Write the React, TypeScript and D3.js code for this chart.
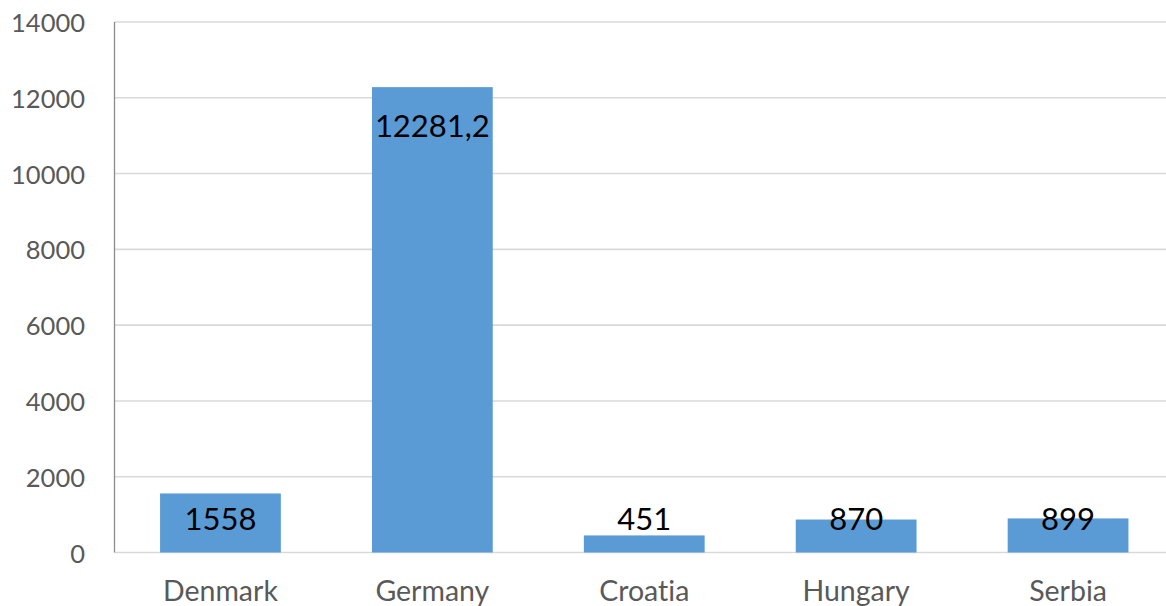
import React from "react";
import * as d3 from "d3";

const categories = ["Denmark", "Germany", "Croatia", "Hungary", "Serbia"];
const values = [1558, 12281.2, 451, 870, 899];
const valueLabels = ["1558", "12281,2", "451", "870", "899"];
const yTicks = [0, 2000, 4000, 6000, 8000, 10000, 12000, 14000];

const W = 1166;
const H = 606;
const margin = { left: 114.5, right: -8, top: 22, bottom: 53.5 };
const FONT = "Lato, 'Open Sans', sans-serif";

export default function App() {
  const x = d3
    .scaleBand<string>()
    .domain(categories)
    .range([margin.left, W - margin.right])
    .paddingInner(0.43)
    .paddingOuter(0.215);
  const y = d3
    .scaleLinear()
    .domain([0, 14000])
    .range([H - margin.bottom, margin.top]);

  const plotRight = W;
  const labelFloor = y(0) - 34.5;

  return (
    <svg
      width={W}
      height={H}
      style={{
        position: "absolute",
        left: 0,
        top: 0,
        background: "#fff",
        fontVariantLigatures: "none",
      }}
      fontFamily={FONT}
    >
      {/* horizontal gridlines */}
      {yTicks.map((t) => (
        <line
          key={t}
          x1={margin.left}
          x2={plotRight}
          y1={y(t)}
          y2={y(t)}
          stroke="#d9d9d9"
          strokeWidth={1.6}
        />
      ))}
      {/* value axis line */}
      <line
        x1={margin.left}
        x2={margin.left}
        y1={y(14000)}
        y2={y(0)}
        stroke="#8c8c8c"
        strokeWidth={1.3}
      />
      {/* tick labels */}
      {yTicks.map((t) => (
        <text
          key={"t" + t}
          x={85}
          y={y(t)}
          textAnchor="end"
          dominantBaseline="central"
          fill="#595959"
          fontSize={25.5}
        >
          {t}
        </text>
      ))}
      {/* bars */}
      {categories.map((c, i) => (
        <rect
          key={c}
          x={x(c)}
          y={y(values[i])}
          width={x.bandwidth()}
          height={y(0) - y(values[i])}
          fill="#5b9bd5"
        />
      ))}
      {/* data labels */}
      {categories.map((c, i) => (
        <text
          key={"v" + c}
          x={(x(c) as number) + x.bandwidth() / 2}
          y={Math.min(y(values[i]) + 38, labelFloor)}
          textAnchor="middle"
          dominantBaseline="central"
          fill="#000"
          fontSize={31}
        >
          {valueLabels[i]}
        </text>
      ))}
      {/* category labels */}
      {categories.map((c) => (
        <text
          key={"c" + c}
          x={(x(c) as number) + x.bandwidth() / 2}
          y={601}
          textAnchor="middle"
          fill="#595959"
          fontSize={28.5}
        >
          {c}
        </text>
      ))}
    </svg>
  );
}
